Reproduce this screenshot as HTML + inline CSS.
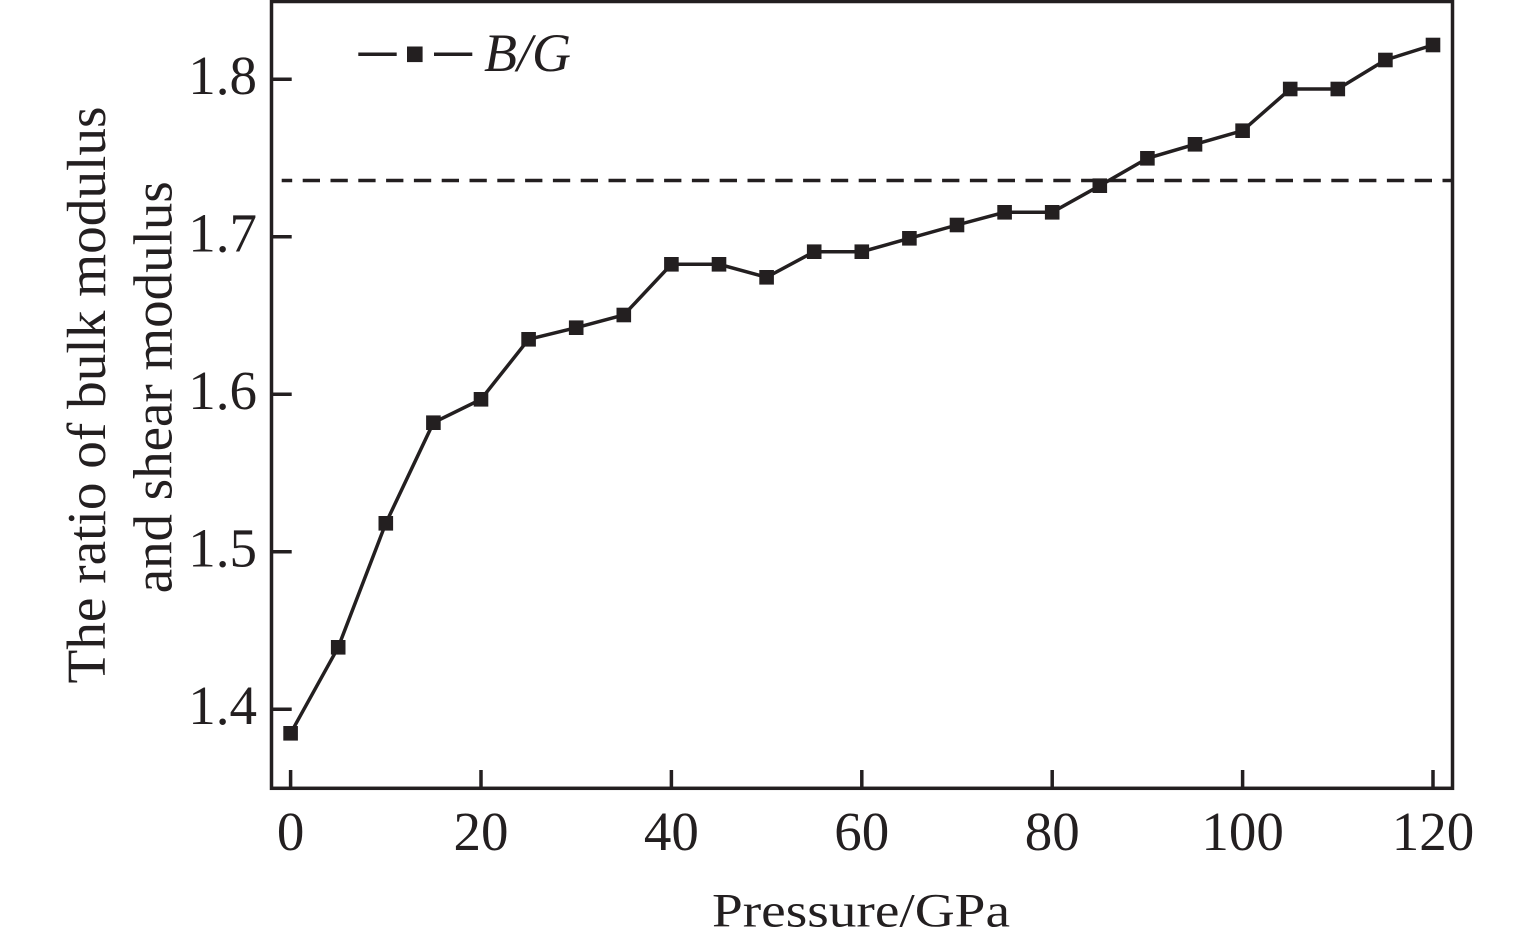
<!DOCTYPE html>
<html>
<head>
<meta charset="utf-8">
<style>
  html, body { margin: 0; padding: 0; background: #ffffff; }
  svg { display: block; }
  text { font-family: "Liberation Serif", "Times New Roman", serif; fill: #231f20; }
</style>
</head>
<body>
<svg width="1535" height="945" viewBox="0 0 1535 945" xmlns="http://www.w3.org/2000/svg">
  <rect x="0" y="0" width="1535" height="945" fill="#ffffff"/>

  <!-- dashed reference line -->
  <line x1="281.7" y1="180.5" x2="1451" y2="180.5" stroke="#231f20" stroke-width="3.6" stroke-dasharray="17.3 10.5" stroke-dashoffset="6.8"/>

  <!-- frame -->
  <rect x="271.5" y="1.5" width="1181" height="786.8" fill="none" stroke="#231f20" stroke-width="3.5"/>

  <!-- y ticks -->
  <g stroke="#231f20" stroke-width="3.5">
    <line x1="271.5" y1="79.3" x2="291.7" y2="79.3"/>
    <line x1="271.5" y1="236.8" x2="291.7" y2="236.8"/>
    <line x1="271.5" y1="394.3" x2="291.7" y2="394.3"/>
    <line x1="271.5" y1="551.8" x2="291.7" y2="551.8"/>
    <line x1="271.5" y1="709.3" x2="291.7" y2="709.3"/>
  </g>
  <!-- x ticks -->
  <g stroke="#231f20" stroke-width="3.5">
    <line x1="290.6" y1="788.3" x2="290.6" y2="770"/>
    <line x1="481" y1="788.3" x2="481" y2="770"/>
    <line x1="671.4" y1="788.3" x2="671.4" y2="770"/>
    <line x1="861.8" y1="788.3" x2="861.8" y2="770"/>
    <line x1="1052.2" y1="788.3" x2="1052.2" y2="770"/>
    <line x1="1242.6" y1="788.3" x2="1242.6" y2="770"/>
    <line x1="1433" y1="788.3" x2="1433" y2="770"/>
  </g>

  <!-- y tick labels -->
  <g font-size="55" text-anchor="end">
    <text x="257" y="94">1.8</text>
    <text x="257" y="251.5">1.7</text>
    <text x="257" y="409">1.6</text>
    <text x="257" y="566.5">1.5</text>
    <text x="257" y="724">1.4</text>
  </g>
  <!-- x tick labels -->
  <g font-size="55" text-anchor="middle">
    <text x="290.6" y="850">0</text>
    <text x="481" y="850">20</text>
    <text x="671.4" y="850">40</text>
    <text x="861.8" y="850">60</text>
    <text x="1052.2" y="850">80</text>
    <text x="1242.6" y="850">100</text>
    <text x="1433" y="850">120</text>
  </g>

  <!-- axis titles -->
  <text x="712" y="926.7" font-size="48" textLength="298" lengthAdjust="spacingAndGlyphs">Pressure/GPa</text>
  <text transform="translate(105,683.5) rotate(-90)" font-size="55" textLength="577" lengthAdjust="spacingAndGlyphs">The ratio of bulk modulus</text>
  <text transform="translate(171.7,593.3) rotate(-90)" font-size="55" textLength="412" lengthAdjust="spacingAndGlyphs">and shear modulus</text>

  <!-- series line -->
  <polyline fill="none" stroke="#231f20" stroke-width="3.5" stroke-linejoin="miter"
    points="290.6,733.3 338.2,647.3 385.8,523.3 433.4,422.7 481,399.3 528.6,339.3 576.2,327.7 623.8,315 671.4,264.3 719,264.3 766.6,277.3 814.2,251.7 861.8,251.7 909.4,238.3 957,225 1004.6,212.3 1052.2,212.3 1099.8,185.7 1147.4,158.3 1195,144.3 1242.6,130.7 1290.2,89 1337.8,89 1385.4,60 1433,45"/>

  <!-- markers -->
  <g fill="#231f20">
    <rect x="283.3" y="726" width="14.6" height="14.6"/>
    <rect x="330.9" y="640" width="14.6" height="14.6"/>
    <rect x="378.5" y="516" width="14.6" height="14.6"/>
    <rect x="426.1" y="415.4" width="14.6" height="14.6"/>
    <rect x="473.7" y="392" width="14.6" height="14.6"/>
    <rect x="521.3" y="332" width="14.6" height="14.6"/>
    <rect x="568.9" y="320.4" width="14.6" height="14.6"/>
    <rect x="616.5" y="307.7" width="14.6" height="14.6"/>
    <rect x="664.1" y="257" width="14.6" height="14.6"/>
    <rect x="711.7" y="257" width="14.6" height="14.6"/>
    <rect x="759.3" y="270" width="14.6" height="14.6"/>
    <rect x="806.9" y="244.4" width="14.6" height="14.6"/>
    <rect x="854.5" y="244.4" width="14.6" height="14.6"/>
    <rect x="902.1" y="231" width="14.6" height="14.6"/>
    <rect x="949.7" y="217.7" width="14.6" height="14.6"/>
    <rect x="997.3" y="205" width="14.6" height="14.6"/>
    <rect x="1044.9" y="205" width="14.6" height="14.6"/>
    <rect x="1092.5" y="178.4" width="14.6" height="14.6"/>
    <rect x="1140.1" y="151" width="14.6" height="14.6"/>
    <rect x="1187.7" y="137" width="14.6" height="14.6"/>
    <rect x="1235.3" y="123.4" width="14.6" height="14.6"/>
    <rect x="1282.9" y="81.7" width="14.6" height="14.6"/>
    <rect x="1330.5" y="81.7" width="14.6" height="14.6"/>
    <rect x="1378.1" y="52.7" width="14.6" height="14.6"/>
    <rect x="1425.7" y="37.7" width="14.6" height="14.6"/>
  </g>

  <!-- legend -->
  <g stroke="#231f20" stroke-width="3.5">
    <line x1="358.3" y1="54.3" x2="396.7" y2="54.3"/>
    <line x1="434" y1="54.3" x2="472.3" y2="54.3"/>
  </g>
  <rect x="407" y="46.5" width="15.6" height="15.6" fill="#231f20"/>
  <text x="484" y="71" font-size="54" font-style="italic">B/G</text>
</svg>
</body>
</html>
